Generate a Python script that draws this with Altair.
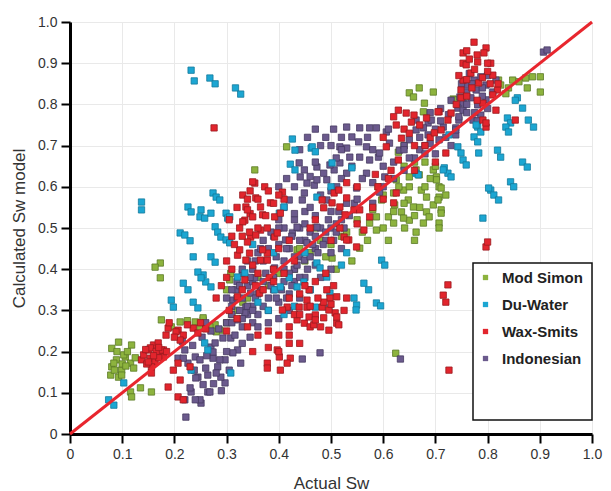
import altair as alt
import pandas as pd

series_names = ["Mod Simon", "Du-Water", "Wax-Smits", "Indonesian"]
fill_colors = ["#8db33e", "#1ca6d2", "#e2252d", "#6b5a8d"]
stroke_colors = ["#5b7a26", "#137a9c", "#9a1a20", "#463a61"]
tick_values = [0, 0.1, 0.2, 0.3, 0.4, 0.5, 0.6, 0.7, 0.8, 0.9, 1.0]
line_x = [0.0, 1.0]
line_y = [0.0, 1.0]

mod_simon = [
    [0.093,0.223],[0.08,0.208],[0.106,0.187],[0.089,0.18],[0.08,0.163],[0.099,0.155],[0.116,0.172],
    [0.122,0.16],[0.078,0.143],[0.093,0.138],[0.118,0.216],[0.116,0.102],[0.118,0.09],[0.135,0.112],
    [0.156,0.102],[0.173,0.415],[0.163,0.405],[0.173,0.379],[0.103,0.192],[0.084,0.172],[0.099,0.143],
    [0.11,0.2],[0.125,0.185],[0.09,0.2],[0.1,0.17],[0.085,0.155],[0.107,0.165],
    [0.175,0.277],[0.211,0.272],[0.24,0.272],[0.255,0.277],[0.249,0.257],[0.278,0.265],[0.287,0.252],
    [0.194,0.26],[0.308,0.39],[0.306,0.374],[0.268,0.26],[0.28,0.248],[0.331,0.32],[0.225,0.275],
    [0.3,0.27],[0.31,0.29],[0.32,0.3],
    [0.354,0.641],[0.555,0.451],[0.502,0.427],[0.587,0.527],[0.3,0.35],[0.255,0.282],[0.435,0.447],
    [0.415,0.697],[0.44,0.45],[0.46,0.44],[0.48,0.47],[0.43,0.4],[0.45,0.42],[0.5,0.46],[0.52,0.48],
    [0.47,0.5],[0.55,0.52],[0.53,0.49],[0.36,0.38],[0.38,0.36],[0.34,0.33],[0.4,0.39],[0.51,0.4],
    [0.54,0.42],[0.57,0.47],[0.49,0.43],
    [0.65,0.828],[0.658,0.818],[0.669,0.84],[0.696,0.83],[0.679,0.803],[0.677,0.782],[0.734,0.813],
    [0.629,0.684],[0.66,0.66],[0.663,0.641],[0.65,0.624],[0.669,0.629],[0.696,0.641],[0.702,0.624],
    [0.673,0.592],[0.683,0.575],[0.707,0.6],[0.707,0.575],[0.696,0.556],[0.711,0.544],[0.683,0.539],
    [0.688,0.527],[0.707,0.512],[0.663,0.49],[0.641,0.5],[0.65,0.519],[0.635,0.539],[0.622,0.556],
    [0.62,0.585],[0.648,0.568],[0.658,0.551],[0.61,0.527],[0.62,0.512],[0.639,0.592],[0.625,0.617],
    [0.597,0.568],[0.58,0.545],[0.574,0.512],[0.587,0.495],[0.677,0.512],[0.736,0.811],[0.753,0.816],
    [0.821,0.859],[0.848,0.859],[0.86,0.855],[0.873,0.864],[0.886,0.867],[0.901,0.867],[0.901,0.83],
    [0.876,0.84],[0.84,0.84],[0.835,0.826],[0.825,0.847],[0.702,0.617],[0.711,0.597],[0.705,0.568],
    [0.711,0.536],[0.707,0.5],[0.66,0.47],[0.639,0.524],[0.6,0.58],[0.59,0.6],[0.64,0.65],[0.68,0.66],
    [0.624,0.196],[0.64,0.7],[0.6,0.5],[0.56,0.49],[0.61,0.47],[0.65,0.6],[0.67,0.55],
    [0.62,0.54],[0.64,0.56],[0.66,0.53],[0.68,0.6],[0.69,0.62],[0.7,0.65],[0.72,0.58],[0.63,0.6],
]

du_water = [
    [0.232,0.883],[0.238,0.857],[0.268,0.864],[0.278,0.85],[0.317,0.84],[0.327,0.825],[0.137,0.563],
    [0.137,0.544],[0.426,0.716],[0.431,0.689],[0.462,0.694],[0.422,0.655],[0.431,0.641],[0.274,0.585],
    [0.28,0.575],[0.287,0.568],[0.226,0.551],[0.232,0.539],[0.249,0.527],[0.258,0.524],[0.27,0.536],
    [0.299,0.536],[0.302,0.524],[0.278,0.503],[0.283,0.49],[0.211,0.488],[0.22,0.483],[0.23,0.469],
    [0.289,0.478],[0.299,0.471],[0.251,0.544],[0.306,0.527],[0.306,0.464],[0.27,0.43],[0.278,0.417],
    [0.255,0.386],[0.26,0.369],[0.27,0.357],[0.236,0.43],[0.217,0.366],[0.226,0.35],[0.245,0.393],
    [0.251,0.379],[0.194,0.325],[0.198,0.308],[0.236,0.32],[0.245,0.306],[0.074,0.083],[0.084,0.07],
    [0.103,0.124],[0.258,0.221],[0.264,0.204],[0.308,0.148],[0.335,0.391],[0.232,0.155],
    [0.42,0.379],[0.435,0.357],[0.448,0.369],[0.46,0.35],[0.473,0.415],[0.479,0.403],[0.492,0.381],
    [0.498,0.342],[0.47,0.308],[0.544,0.33],[0.549,0.313],[0.563,0.366],[0.572,0.35],[0.587,0.318],
    [0.597,0.422],[0.603,0.41],[0.401,0.536],[0.41,0.551],[0.473,0.575],[0.502,0.658],[0.321,0.381],
    [0.392,0.35],[0.403,0.357],[0.548,0.301],[0.595,0.311],[0.496,0.306],[0.464,0.697],[0.47,0.685],
    [0.54,0.646],[0.663,0.633],[0.36,0.32],[0.38,0.3],[0.41,0.29],[0.43,0.31],[0.45,0.44],
    [0.52,0.41],[0.53,0.44],[0.39,0.44],[0.35,0.46],[0.5,0.6],
    [0.857,0.816],[0.867,0.791],[0.838,0.767],[0.844,0.755],[0.835,0.745],[0.84,0.733],[0.878,0.762],
    [0.888,0.745],[0.781,0.745],[0.787,0.733],[0.774,0.721],[0.781,0.709],[0.743,0.697],[0.749,0.682],
    [0.753,0.665],[0.759,0.653],[0.783,0.682],[0.819,0.689],[0.825,0.672],[0.867,0.66],[0.876,0.648],
    [0.717,0.646],[0.724,0.633],[0.73,0.624],[0.844,0.612],[0.85,0.6],[0.806,0.592],[0.812,0.58],
    [0.667,0.629],[0.726,0.726],[0.778,0.75],[0.853,0.81],[0.821,0.568],[0.791,0.524],[0.802,0.597],
    [0.715,0.641],
]

wax_smits = [
    [0.137,0.18],[0.141,0.192],[0.15,0.204],[0.16,0.216],[0.169,0.221],[0.154,0.184],[0.163,0.175],
    [0.175,0.192],[0.179,0.204],[0.156,0.163],[0.156,0.148],[0.154,0.209],[0.175,0.204],[0.179,0.187],
    [0.188,0.114],[0.207,0.09],[0.217,0.083],[0.211,0.131],[0.23,0.163],[0.207,0.172],[0.198,0.155],
    [0.145,0.205],[0.165,0.2],[0.17,0.185],[0.147,0.17],[0.16,0.19],[0.15,0.175],[0.17,0.21],[0.185,0.2],
    [0.188,0.257],[0.184,0.24],[0.207,0.252],[0.217,0.24],[0.211,0.228],[0.236,0.257],[0.245,0.245],
    [0.203,0.248],[0.19,0.27],[0.225,0.265],[0.2,0.235],[0.25,0.27],[0.26,0.255],
    [0.397,0.204],[0.401,0.187],[0.378,0.172],[0.378,0.16],[0.403,0.155],[0.422,0.184],[0.416,0.172],
    [0.449,0.269],[0.46,0.26],[0.454,0.308],[0.47,0.289],[0.467,0.265],[0.483,0.308],[0.486,0.282],
    [0.508,0.294],[0.511,0.269],[0.498,0.33],[0.492,0.35],[0.435,0.277],[0.416,0.308],[0.458,0.35],
    [0.407,0.301],[0.454,0.325],[0.486,0.32],[0.496,0.301],[0.458,0.284],[0.47,0.277],[0.511,0.284],
    [0.515,0.265],[0.496,0.252],[0.439,0.308],[0.511,0.333],[0.42,0.33],[0.44,0.34],[0.475,0.33],
    [0.5,0.315],[0.43,0.29],[0.48,0.26],
    [0.321,0.434],[0.344,0.439],[0.365,0.422],[0.378,0.439],[0.354,0.609],[0.331,0.58],[0.34,0.57],
    [0.373,0.6],[0.38,0.59],[0.407,0.587],[0.41,0.57],[0.337,0.551],[0.345,0.535],[0.369,0.532],
    [0.384,0.561],[0.335,0.519],[0.365,0.495],[0.392,0.527],[0.403,0.536],[0.346,0.478],[0.392,0.478],
    [0.35,0.612],[0.356,0.573],[0.365,0.551],[0.34,0.544],[0.35,0.527],[0.331,0.515],[0.378,0.5],
    [0.344,0.49],[0.356,0.483],[0.34,0.466],[0.397,0.488],[0.325,0.447],[0.337,0.422],[0.35,0.41],
    [0.369,0.447],[0.378,0.422],[0.335,0.374],[0.382,0.379],[0.321,0.333],[0.363,0.342],[0.31,0.4],
    [0.3,0.38],[0.29,0.36],[0.36,0.39],[0.39,0.4],[0.4,0.45],[0.42,0.47],[0.355,0.36],[0.33,0.35],
    [0.28,0.33],[0.305,0.3],[0.32,0.28],[0.34,0.26],[0.36,0.24],[0.38,0.25],[0.4,0.24],[0.42,0.26],
    [0.42,0.22],[0.35,0.2],[0.38,0.21],[0.3,0.25],
    [0.3,0.42],[0.315,0.46],[0.33,0.48],[0.36,0.5],[0.375,0.53],[0.39,0.56],[0.4,0.58],[0.36,0.57],
    [0.345,0.59],[0.32,0.55],[0.325,0.5],[0.31,0.48],[0.305,0.52],[0.37,0.35],[0.39,0.37],[0.41,0.39],
    [0.43,0.42],[0.45,0.36],[0.47,0.37],[0.49,0.39],[0.505,0.36],[0.525,0.3],[0.53,0.33],[0.46,0.31],
    [0.44,0.29],[0.42,0.24],[0.44,0.22],[0.4,0.2],
    [0.276,0.743],[0.715,0.337],[0.724,0.362],[0.72,0.32],[0.726,0.155],[0.797,0.454],[0.8,0.466],
    [0.483,0.568],[0.486,0.549],[0.506,0.585],[0.517,0.551],[0.527,0.532],[0.544,0.544],[0.574,0.527],
    [0.563,0.495],[0.517,0.5],[0.534,0.471],[0.515,0.592],[0.502,0.561],[0.53,0.573],[0.555,0.544],
    [0.625,0.585],[0.62,0.561],[0.525,0.478],[0.549,0.454],[0.53,0.471],[0.47,0.52],[0.46,0.5],
    [0.5,0.47],[0.55,0.51],[0.58,0.55],[0.6,0.57],[0.59,0.6],[0.61,0.62],[0.55,0.6],[0.53,0.61],
    [0.629,0.786],[0.644,0.779],[0.659,0.774],[0.654,0.757],[0.625,0.75],[0.683,0.767],[0.707,0.782],
    [0.711,0.738],[0.629,0.665],[0.635,0.718],[0.606,0.697],[0.64,0.74],[0.62,0.77],[0.67,0.75],
    [0.69,0.72],[0.66,0.7],[0.65,0.73],[0.753,0.9],[0.753,0.859],[0.749,0.816],[0.774,0.951],
    [0.753,0.925],[0.759,0.896],[0.797,0.937],[0.793,0.925],[0.781,0.903],[0.806,0.9],[0.81,0.871],
    [0.768,0.876],[0.783,0.852],[0.819,0.835],[0.81,0.823],[0.791,0.803],[0.816,0.786],[0.749,0.835],
    [0.73,0.779],[0.705,0.782],[0.724,0.762],[0.791,0.762],[0.797,0.745],[0.853,0.762],[0.698,0.731],
    [0.72,0.682],[0.797,0.755],[0.765,0.91],[0.77,0.84],[0.8,0.88],[0.82,0.85],[0.76,0.86],[0.74,0.8],
    [0.68,0.7],[0.7,0.66],[0.66,0.64],[0.6,0.72],[0.615,0.64],[0.585,0.63],
    [0.76,0.93],[0.78,0.92],[0.8,0.9],[0.775,0.885],[0.79,0.865],[0.805,0.85],[0.745,0.87],[0.76,0.82],
    [0.78,0.81],
]

indonesian = [
    [0.222,0.041],[0.22,0.083],[0.232,0.102],[0.251,0.075],[0.264,0.102],[0.245,0.138],[0.26,0.16],
    [0.283,0.163],[0.297,0.124],[0.289,0.138],[0.274,0.184],[0.297,0.18],[0.321,0.204],[0.327,0.172],
    [0.308,0.233],[0.27,0.211],[0.24,0.187],[0.226,0.172],[0.22,0.204],[0.207,0.184],[0.23,0.112],
    [0.249,0.083],[0.268,0.102],[0.241,0.136],[0.264,0.143],[0.28,0.148],[0.217,0.184],[0.249,0.18],
    [0.274,0.199],[0.287,0.18],[0.312,0.197],[0.278,0.221],[0.293,0.233],[0.316,0.24],[0.321,0.277],
    [0.337,0.308],[0.318,0.35],[0.312,0.325],[0.255,0.12],[0.238,0.155],[0.262,0.19],[0.3,0.2],
    [0.305,0.155],[0.285,0.255],[0.3,0.27],[0.33,0.26],[0.34,0.29],[0.35,0.27],[0.215,0.225],
    [0.235,0.215],[0.253,0.235],[0.27,0.25],[0.26,0.27],[0.31,0.29],[0.33,0.22],[0.345,0.235],
    [0.29,0.105],[0.275,0.122],[0.24,0.083],
    [0.33,0.33],[0.35,0.31],[0.36,0.34],[0.34,0.36],[0.37,0.37],[0.38,0.33],[0.39,0.35],[0.4,0.32],
    [0.41,0.37],[0.42,0.34],[0.36,0.29],[0.38,0.3],[0.4,0.28],[0.35,0.4],[0.37,0.42],[0.39,0.4],
    [0.41,0.42],[0.43,0.4],[0.44,0.43],[0.42,0.45],[0.4,0.46],[0.38,0.45],[0.45,0.47],[0.47,0.45],
    [0.46,0.49],[0.44,0.5],[0.48,0.5],[0.49,0.47],[0.5,0.44],[0.43,0.37],[0.45,0.38],[0.47,0.41],
    [0.48,0.38],[0.32,0.37],[0.33,0.39],[0.3,0.33],[0.31,0.31],[0.34,0.42],[0.36,0.44],[0.39,0.48],
    [0.41,0.5],[0.43,0.52],[0.45,0.54],[0.47,0.53],[0.5,0.5],[0.52,0.52],[0.51,0.49],[0.36,0.26],
    [0.38,0.27],[0.42,0.3],[0.44,0.33],[0.46,0.35],[0.5,0.4],[0.52,0.45],[0.35,0.37],[0.39,0.38],
    [0.42,0.39],[0.413,0.471],[0.426,0.488],[0.454,0.464],[0.449,0.422],[0.392,0.403],[0.354,0.379],
    [0.346,0.342],[0.335,0.294],
    [0.31,0.35],[0.32,0.33],[0.325,0.3],[0.34,0.31],[0.345,0.38],[0.355,0.33],[0.365,0.35],[0.37,0.31],
    [0.375,0.39],[0.385,0.36],[0.395,0.33],[0.405,0.35],[0.41,0.4],[0.415,0.33],[0.425,0.36],
    [0.43,0.43],[0.435,0.41],[0.44,0.38],[0.455,0.4],[0.46,0.43],[0.465,0.46],[0.47,0.48],[0.475,0.44],
    [0.485,0.46],[0.49,0.49],[0.495,0.52],[0.505,0.47],[0.51,0.51],[0.515,0.54],[0.525,0.5],
    [0.535,0.53],[0.545,0.56],[0.37,0.47],[0.385,0.49],[0.4,0.5],[0.395,0.43],[0.415,0.45],
    [0.425,0.48],[0.44,0.47],[0.45,0.51],[0.355,0.42],[0.365,0.45],[0.33,0.4],[0.325,0.36],
    [0.31,0.27],[0.33,0.28],[0.35,0.3],
    [0.53,0.745],[0.555,0.743],[0.574,0.743],[0.587,0.743],[0.54,0.721],[0.553,0.709],[0.568,0.697],
    [0.53,0.694],[0.517,0.697],[0.536,0.672],[0.555,0.672],[0.574,0.665],[0.591,0.672],[0.517,0.658],
    [0.506,0.641],[0.53,0.633],[0.568,0.633],[0.603,0.624],[0.492,0.617],[0.511,0.6],[0.549,0.597],
    [0.593,0.587],[0.631,0.689],[0.65,0.714],[0.663,0.738],[0.612,0.706],[0.686,0.755],[0.492,0.568],
    [0.439,0.658],[0.441,0.624],[0.468,0.604],[0.445,0.568],[0.593,0.682],[0.606,0.733],[0.498,0.653],
    [0.473,0.617],[0.449,0.585],[0.449,0.641],[0.473,0.648],[0.486,0.633],[0.454,0.609],[0.42,0.568],
    [0.435,0.502],[0.473,0.502],[0.46,0.55],[0.48,0.58],[0.5,0.59],[0.52,0.62],[0.54,0.65],
    [0.56,0.62],[0.58,0.61],[0.6,0.65],[0.62,0.66],[0.57,0.72],[0.52,0.72],[0.51,0.67],[0.47,0.66],
    [0.46,0.625],[0.43,0.6],[0.41,0.55],[0.4,0.52],[0.43,0.535],[0.5,0.54],[0.53,0.56],[0.55,0.57],
    [0.58,0.56],[0.6,0.6],[0.62,0.62],[0.64,0.64],[0.66,0.67],[0.68,0.7],[0.64,0.7],[0.67,0.72],
    [0.61,0.74],[0.58,0.69],[0.4,0.6],[0.415,0.62],[0.44,0.69],[0.455,0.72],[0.47,0.74],[0.48,0.7],
    [0.49,0.72],[0.505,0.74],[0.5,0.7],[0.52,0.69],
    [0.787,0.867],[0.797,0.847],[0.778,0.835],[0.759,0.847],[0.768,0.816],[0.753,0.803],[0.743,0.791],
    [0.781,0.799],[0.797,0.811],[0.787,0.774],[0.772,0.762],[0.745,0.762],[0.739,0.743],[0.715,0.745],
    [0.692,0.762],[0.677,0.743],[0.663,0.762],[0.686,0.726],[0.707,0.714],[0.739,0.726],[0.816,0.859],
    [0.774,0.859],[0.747,0.818],[0.753,0.786],[0.745,0.77],[0.739,0.738],[0.76,0.83],[0.79,0.82],
    [0.8,0.79],[0.81,0.83],[0.775,0.78],[0.76,0.8],[0.725,0.775],[0.71,0.79],[0.7,0.74],[0.72,0.72],
    [0.73,0.7],[0.69,0.705],[0.67,0.69],[0.65,0.67],[0.64,0.69],[0.68,0.68],[0.7,0.68],[0.765,0.875],
    [0.8,0.87],[0.907,0.927],[0.914,0.932],[0.479,0.197],[0.445,0.182],[0.633,0.182],
    [0.75,0.85],[0.77,0.85],[0.79,0.84],[0.76,0.78],[0.78,0.76],[0.71,0.76],[0.69,0.78],[0.73,0.81],
]

# draw order: Mod Simon, Indonesian, Du-Water, Wax-Smits
draw_order = [("Mod Simon", mod_simon), ("Indonesian", indonesian),
              ("Du-Water", du_water), ("Wax-Smits", wax_smits)]
rows = []
for name, pts in draw_order:
    for x, y in pts:
        rows.append({"series": name, "actual": x, "calc": y})
df = pd.DataFrame(rows)
line_df = pd.DataFrame({"actual": line_x, "calc": line_y})

FONT = "Liberation Sans"
label_expr = "datum.value == 0 ? '0' : format(datum.value, '.1f')"

x_enc = alt.X("actual:Q", title="Actual Sw",
              scale=alt.Scale(domain=[0, 1], nice=False, zero=False),
              axis=alt.Axis(values=tick_values, labelExpr=label_expr, labelFlush=False))
y_enc = alt.Y("calc:Q", title="Calculated Sw model",
              scale=alt.Scale(domain=[0, 1], nice=False, zero=False),
              axis=alt.Axis(values=tick_values, labelExpr=label_expr, labelFlush=False))

points = alt.Chart(df).mark_square(size=40, strokeWidth=0.8, opacity=1, filled=True).encode(
    x=x_enc,
    y=y_enc,
    fill=alt.Fill("series:N",
                  scale=alt.Scale(domain=series_names, range=fill_colors),
                  legend=alt.Legend(title=None, orient="none", legendX=408, legendY=248,
                                    symbolType="square", symbolSize=28, symbolStrokeWidth=0,
                                    labelFont=FONT, labelFontSize=15, labelFontWeight="bold",
                                    labelColor="#222222", labelOffset=9, rowPadding=11,
                                    padding=0)),
    stroke=alt.Stroke("series:N",
                      scale=alt.Scale(domain=series_names, range=stroke_colors),
                      legend=None),
)

legend_box = alt.Chart(pd.DataFrame({"a": [0]})).mark_rect(
    fill="white", stroke="#111111", strokeWidth=1.5
).encode(x=alt.value(403), x2=alt.value(522), y=alt.value(241), y2=alt.value(398))

diag = alt.Chart(line_df).mark_line(color="#e8262e", strokeWidth=3).encode(
    x="actual:Q", y="calc:Q"
)

chart = alt.layer(points, diag, legend_box).properties(
    width=522, height=412,
    autosize=alt.AutoSizeParams(type="none"),
    padding={"left": 62, "top": 14, "right": 11, "bottom": 57},
    background="white",
).configure_view(stroke=None).configure_axis(
    domainColor="#000000", domainWidth=3,
    tickColor="#000000", tickWidth=2, tickSize=9,
    labelFont=FONT, labelFontSize=14, labelColor="#333333", labelPadding=4,
    titleFont=FONT, titleFontSize=17, titleFontWeight="normal", titleColor="#333333",
    gridColor="#e9e9e9", gridWidth=1,
).configure_axisX(titlePadding=14).configure_axisY(titlePadding=9)

chart.save("out.html", embed_options={"renderer": "svg", "actions": False})
